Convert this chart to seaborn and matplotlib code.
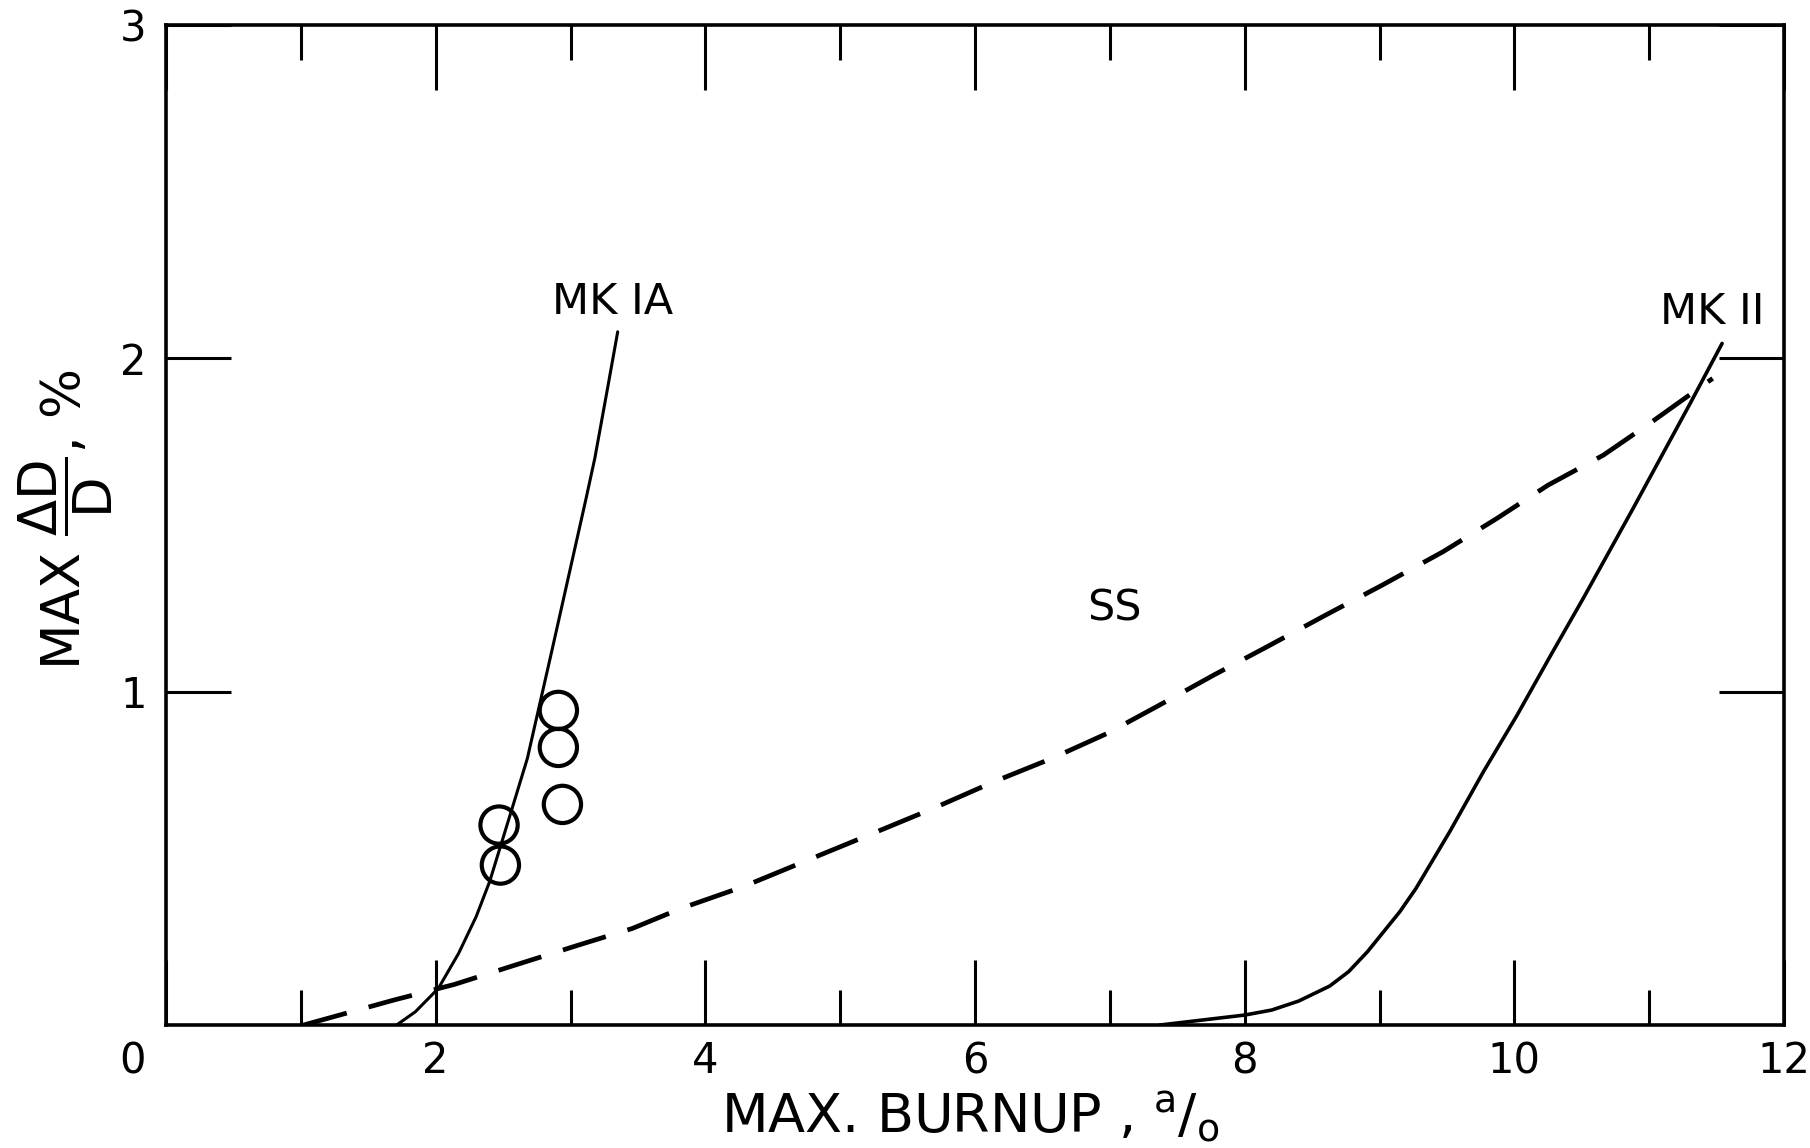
import numpy as np
import pandas as pd
import matplotlib
matplotlib.use("Agg")
import matplotlib.pyplot as plt
from matplotlib.transforms import ScaledTranslation
import seaborn as sns

# ---- data ----
mk1a_x = [1.71, 1.85, 2.02, 2.17, 2.30, 2.40, 2.57, 2.68, 2.77, 2.86, 3.11, 3.18, 3.27, 3.35]
mk1a_y = [0.00, 0.04, 0.11, 0.215, 0.325, 0.43, 0.654, 0.80, 0.96, 1.12, 1.57, 1.70, 1.90, 2.08]

ss_x = [1.02, 1.69, 2.14, 2.59, 3.06, 3.46, 3.82, 4.28, 4.73, 5.20, 5.69, 6.14, 6.57,
        6.98, 7.35, 7.77, 8.17, 8.60, 9.02, 9.47, 9.87, 10.25, 10.66, 11.02, 11.47]
ss_y = [0.00, 0.075, 0.122, 0.18, 0.24, 0.29, 0.35, 0.415, 0.49, 0.568, 0.65, 0.73, 0.80,
        0.875, 0.956, 1.05, 1.136, 1.23, 1.32, 1.42, 1.52, 1.62, 1.71, 1.81, 1.94]

mk2_x = [7.37, 8.00, 8.20, 8.40, 8.63, 8.77, 8.91, 9.02, 9.15, 9.27, 9.52, 9.77, 10.02,
         10.27, 10.51, 10.88, 11.31, 11.54]
mk2_y = [0.00, 0.03, 0.045, 0.072, 0.117, 0.16, 0.22, 0.275, 0.34, 0.41, 0.58, 0.76, 0.93,
         1.11, 1.28, 1.55, 1.87, 2.045]

pts_x = [2.91, 2.91, 2.94, 2.47, 2.48]
pts_y = [0.944, 0.833, 0.662, 0.60, 0.48]

x_major = [0, 2, 4, 6, 8, 10, 12]
x_minor = [1, 3, 5, 7, 9, 11]
y_ticks = [1, 2, 3]

labels = {"MK IA": (3.31, 2.17), "MK II": (11.47, 2.14), "SS": (7.03, 1.25)}

# ---- styling ----
sns.set_style("white")
plt.rcParams["font.family"] = ["DejaVu Sans"]
plt.rcParams["mathtext.fontset"] = "dejavusans"
for key in ("text.color", "axes.labelcolor", "xtick.color", "ytick.color", "axes.edgecolor"):
    plt.rcParams[key] = "black"

fig = plt.figure(figsize=(18.10, 11.48), dpi=100)
ax = fig.add_axes([0.0917, 0.1071, 0.894, 0.871])

df_mk1a = pd.DataFrame({"x": mk1a_x, "y": mk1a_y})
df_ss = pd.DataFrame({"x": ss_x, "y": ss_y})
df_mk2 = pd.DataFrame({"x": mk2_x, "y": mk2_y})
df_pts = pd.DataFrame({"x": pts_x, "y": pts_y})

sns.lineplot(data=df_mk1a, x="x", y="y", ax=ax, color="black", lw=2.2,
             sort=False, estimator=None)
sns.lineplot(data=df_mk2, x="x", y="y", ax=ax, color="black", lw=2.6,
             sort=False, estimator=None)
ss_line = sns.lineplot(data=df_ss, x="x", y="y", ax=ax, color="black", lw=3.4,
                       sort=False, estimator=None).lines[-1]
ss_line.set_dashes([9.5, 4.8])

sns.scatterplot(data=df_pts, x="x", y="y", ax=ax, marker="o", s=720,
                linewidth=3.0, zorder=3)
pc = ax.collections[-1]
pc.set_facecolor("none")
pc.set_edgecolor("black")

for txt, (tx, ty) in labels.items():
    ax.text(tx, ty, txt, ha="center", va="center", fontsize=31, color="black")

ax.set_xlim(0, 12)
ax.set_ylim(0, 3)

ax.set_xticks(x_major)
ax.set_xticklabels([str(v) for v in x_major])
ax.set_xticks(x_minor, minor=True)
ax.set_yticks(y_ticks)
ax.set_yticklabels([str(v) for v in y_ticks])

ax.tick_params(axis="x", which="major", direction="in", length=47, width=2.2,
               top=True, bottom=True, labelsize=30, pad=11, color="black")
ax.tick_params(axis="x", which="minor", direction="in", length=25, width=2.2,
               top=True, bottom=True, color="black")
ax.tick_params(axis="y", which="major", direction="in", length=47, width=2.2,
               left=True, right=True, labelsize=30, pad=14, color="black")

for sp in ax.spines.values():
    sp.set_visible(True)
    sp.set_linewidth(2.6)
    sp.set_color("black")

# shift the corner "0" label to the left as in the reference
lab0 = ax.get_xticklabels()[0]
lab0.set_transform(lab0.get_transform() + ScaledTranslation(-24 / 72, 0, fig.dpi_scale_trans))

ax.set_xlabel(r"MAX. BURNUP , $^{\mathrm{a}}/_{\mathrm{o}}$", fontsize=39)
ax.xaxis.set_label_coords(0.497, -0.092)
ax.xaxis.label.set_verticalalignment("center")

ax.set_ylabel(r"MAX $\dfrac{\Delta\mathrm{D}}{\mathrm{D}}$, %", fontsize=38)
ax.yaxis.set_label_coords(-0.062, 0.505)
ax.yaxis.label.set_verticalalignment("center")

ax.grid(False)
fig.savefig("out.png", dpi=100, facecolor="white")
